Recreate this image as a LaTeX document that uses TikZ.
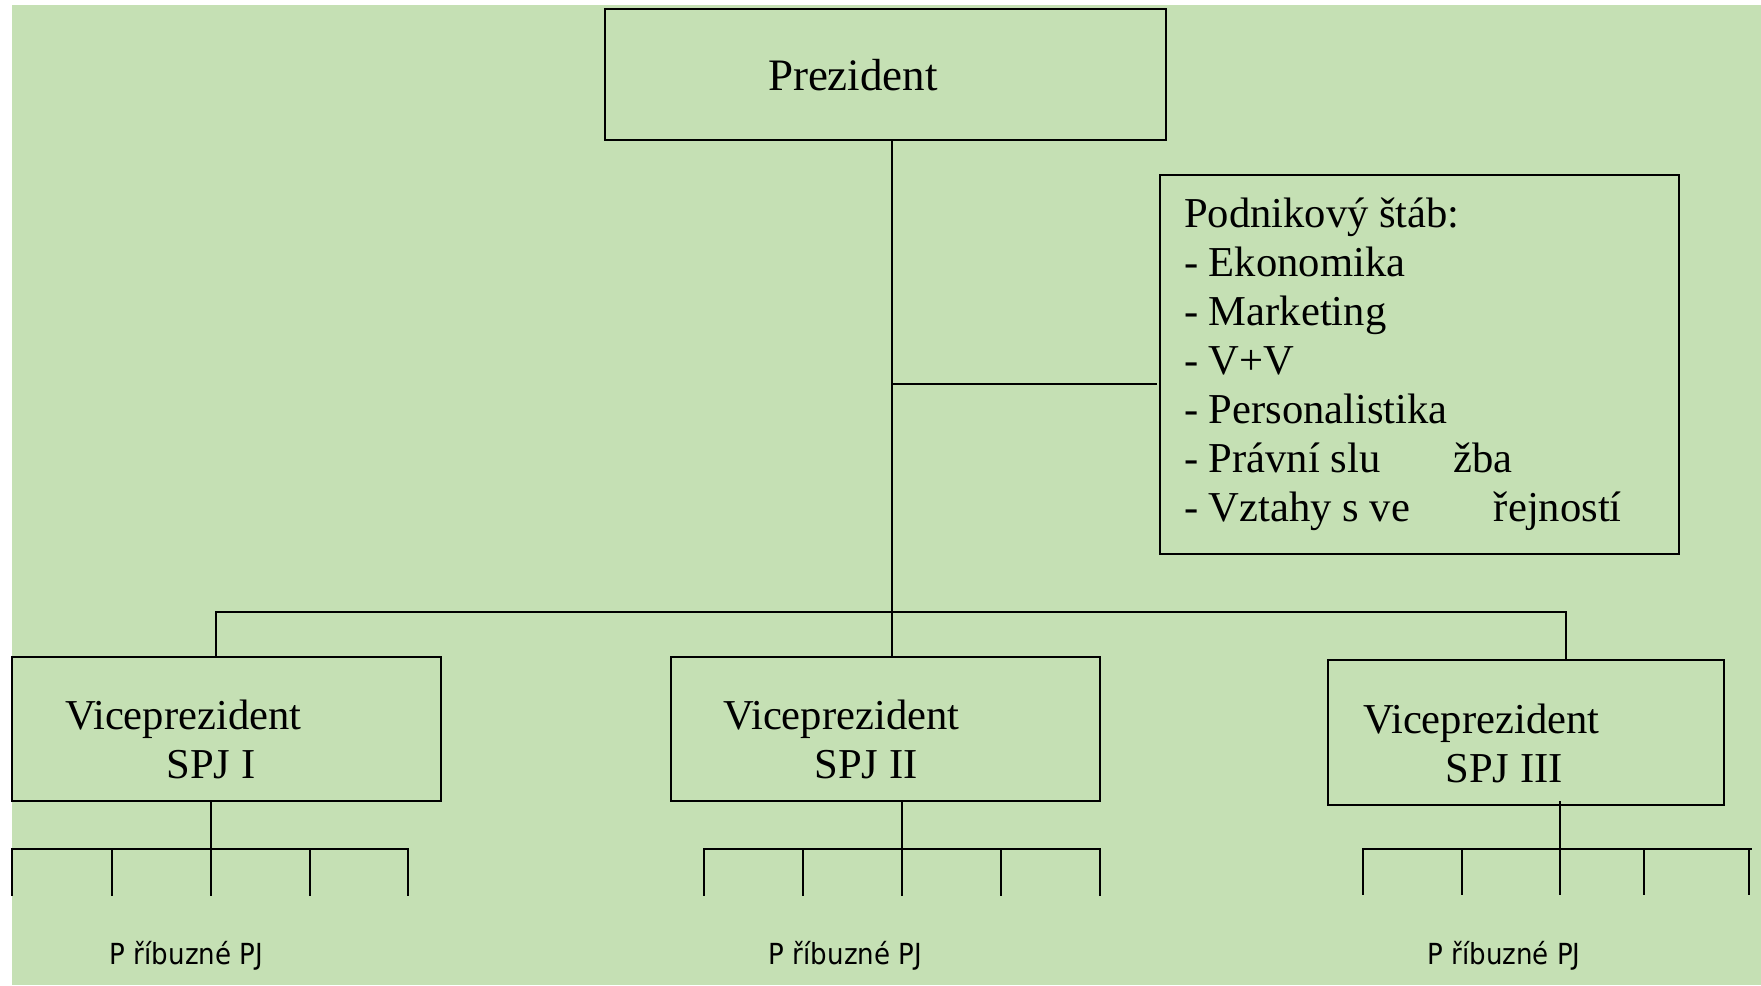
\documentclass[tikz,border=0pt]{standalone}
\usepackage{fontspec}
\setmainfont{Liberation Serif}
\newfontfamily\labelfont[FakeStretch=0.9]{DejaVu Sans}
\definecolor{bggreen}{HTML}{C5E0B4}
\begin{document}
\begin{tikzpicture}[x=0.5pt,y=-0.5pt,
  box/.style={draw, line width=1.1pt, inner sep=0pt, outer sep=0pt},
  link/.style={line width=1pt},
  txt/.style={inner sep=0pt, outer sep=0pt, font=\fontsize{21.3}{24.5}\selectfont},
  toptxt/.style={inner sep=0pt, outer sep=0pt, font=\fontsize{22.5}{26}\selectfont},
  unit/.style={inner sep=0pt, outer sep=0pt, font=\labelfont\fontsize{14.5}{17}\selectfont}]
\useasboundingbox (0,0) rectangle (1761,985);
\fill[bggreen] (12,5) rectangle (1761,985);

% boxes
\node[box, minimum width=280.5pt, minimum height=65.5pt] (pres) at (885.5,74.5) {};
\node[box, minimum width=259.5pt, minimum height=189.5pt] (staff) at (1419.5,364.5) {};
\node[box, minimum width=214.5pt, minimum height=72pt] (vp1) at (226.5,729) {};
\node[box, minimum width=214.5pt, minimum height=72pt] (vp2) at (885.5,729) {};
\node[box, minimum width=198pt, minimum height=72.5pt] (vp3) at (1526,732.5) {};

% texts
\node[toptxt, anchor=base west] (prestext) at (768,90) {Prezident};
\foreach \t [count=\k] in {Podnikový štáb:, - Ekonomika, - Marketing, - V+V, - Personalistika,
    {- Právní slu\hspace{36.5pt}žba}, {- Vztahy s ve\hspace{42pt}řejností}}
  \node[txt, anchor=base west] (staffline\k) at (1184,{227+49*(\k-1)}) {\t};

\node[txt, anchor=base west] (vp1a) at (65,729) {Viceprezident};
\node[txt, anchor=base] (vp1b) at (211,778) {SPJ I};
\node[txt, anchor=base west] (vp2a) at (723,729) {Viceprezident};
\node[txt, anchor=base] (vp2b) at (866,778) {SPJ II};
\node[txt, anchor=base west] (vp3a) at (1363,733) {Viceprezident};
\node[txt, anchor=base] (vp3b) at (1504,782) {SPJ III};

% main connectors
\coordinate (trunk) at (892,612);
\coordinate (staffjoin) at (892,384);
\coordinate (barL) at (216,612);
\coordinate (barR) at (1566,612);
\draw[link] (trunk |- pres.south) -- (trunk |- vp2.north);
\draw[link] (staffjoin) -- ([xshift=-1.5pt]staffjoin -| staff.west);
\draw[link] (barL |- vp1.north) -- (barL) -- (barR) -- (barR |- vp3.north);

% units under each vice-president
\coordinate (s1) at (211,849);
\coordinate (s2) at (902,849);
\coordinate (s3) at (1560,849);
\coordinate (s3top) at (1560,801);
\draw[link] (s1 |- vp1.south) -- (s1);
\draw[link] (s2 |- vp2.south) -- (s2);
\draw[link] (s3top) -- (s3);
\foreach \x [count=\k] in {12,112,211,310,408} {
  \coordinate (a\k) at (\x,849); \coordinate (ab\k) at (\x,896);
  \draw[link] (a\k) -- (ab\k);
}
\foreach \x [count=\k] in {704,803,902,1001,1100} {
  \coordinate (b\k) at (\x,849); \coordinate (bb\k) at (\x,896);
  \draw[link] (b\k) -- (bb\k);
}
\foreach \x [count=\k] in {1363,1462,1560,1644,1749} {
  \coordinate (c\k) at (\x,849); \coordinate (cb\k) at (\x,895);
  \draw[link] (c\k) -- (cb\k);
}
\draw[link] ([xshift=-0.5pt]a1) -- ([xshift=0.5pt]a5);
\draw[link] ([xshift=-0.5pt]b1) -- ([xshift=0.5pt]b5);
\draw[link] ([xshift=-0.5pt]c1) -- ([xshift=1.5pt]c5);

\node[unit, anchor=base] (u1) at (186.5,964) {P říbuzné PJ};
\node[unit, anchor=base] (u2) at (845.5,964) {P říbuzné PJ};
\node[unit, anchor=base] (u3) at (1504,964) {P říbuzné PJ};
\end{tikzpicture}
\end{document}
